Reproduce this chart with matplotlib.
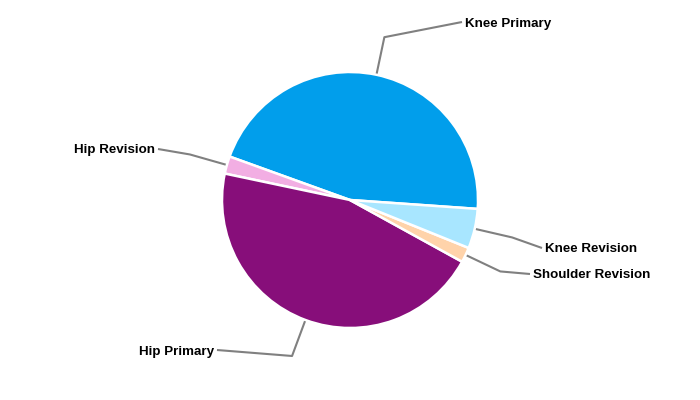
import numpy as np
import matplotlib
matplotlib.use("Agg")
import matplotlib.pyplot as plt

categories = ["Knee Primary", "Hip Revision", "Hip Primary", "Shoulder Revision", "Knee Revision"]
values = [45.6, 2.2, 45.3, 1.9, 5.0]
colors = ["#019EEB", "#F2AEE3", "#870E7A", "#FFD3AA", "#A8E6FF"]

plt.rcParams['font.family'] = ['Liberation Sans', 'DejaVu Sans']

fig = plt.figure(figsize=(7, 4), dpi=100)
ax = fig.add_axes([0, 0, 1, 1])

cx, cy, R = 350, 200, 128
wedges, _ = ax.pie(values, colors=colors, startangle=-4, counterclock=True,
                   center=(cx, cy), radius=R, frame=True,
                   wedgeprops=dict(edgecolor='white', linewidth=1.8))
ax.set_xlim(0, 700)
ax.set_ylim(0, 400)
ax.set_aspect('equal')
ax.axis('off')

# label anchor points (layout)
label_pos = {
    "Knee Primary": (462, 378, 'left'),
    "Hip Revision": (158, 251, 'right'),
    "Hip Primary": (217, 50, 'right'),
    "Shoulder Revision": (530, 126, 'left'),
    "Knee Revision": (542, 152, 'left'),
}

for w, name in zip(wedges, categories):
    mid = np.deg2rad((w.theta1 + w.theta2) / 2)
    p0 = (cx + R * np.cos(mid), cy + R * np.sin(mid))
    p1 = (cx + 1.3 * R * np.cos(mid), cy + 1.3 * R * np.sin(mid))
    lx, ly, ha = label_pos[name]
    ax.plot([p0[0], p1[0], lx], [p0[1], p1[1], ly], color='#808080', lw=1.5,
            solid_capstyle='butt', zorder=0)
    tx = lx + 3 if ha == 'left' else lx - 3
    ax.text(tx, ly - 1.5, name, ha=ha, va='center', fontsize=9.6, fontweight='bold', color='black')

fig.savefig("out.png", dpi=100)
